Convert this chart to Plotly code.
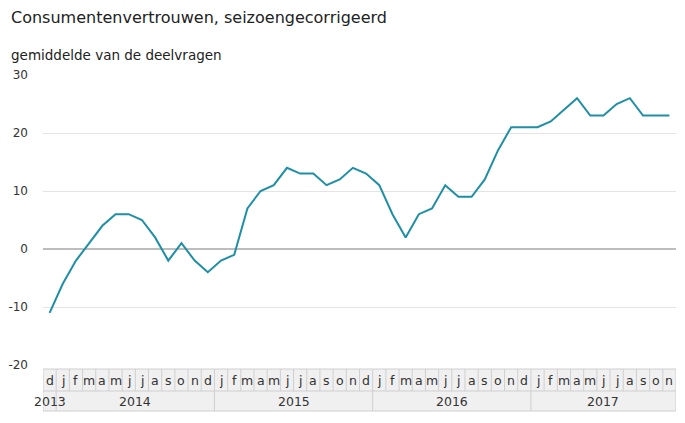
import plotly.graph_objects as go

title_text = "Consumentenvertrouwen, seizoengecorrigeerd"
subtitle_text = "gemiddelde van de deelvragen"

months = ["d",
          "j", "f", "m", "a", "m", "j", "j", "a", "s", "o", "n", "d",
          "j", "f", "m", "a", "m", "j", "j", "a", "s", "o", "n", "d",
          "j", "f", "m", "a", "m", "j", "j", "a", "s", "o", "n", "d",
          "j", "f", "m", "a", "m", "j", "j", "a", "s", "o", "n"]
years = ["2013"] + ["2014"] * 12 + ["2015"] * 12 + ["2016"] * 12 + ["2017"] * 11

values = [-11,
          -6, -2, 1, 4, 6, 6, 5, 2, -2, 1, -2, -4,
          -2, -1, 7, 10, 11, 14, 13, 13, 11, 12, 14, 13,
          11, 6, 2, 6, 7, 11, 9, 9, 12, 17, 21, 21,
          21, 22, 24, 26, 23, 23, 25, 26, 23, 23, 23]

y_ticks = [-20, -10, 0, 10, 20, 30]
y_tick_labels = ["-20", "-10", "0", "10", "20", "30"]

x = list(range(len(values)))
n = len(values)

fig = go.Figure()
fig.add_trace(go.Scatter(x=x, y=values, mode="lines",
                         line=dict(color="#1e8fa5", width=2),
                         hoverinfo="y", showlegend=False))

font_family = "DejaVu Sans, Verdana, sans-serif"

fig.update_layout(
    width=685, height=423,
    margin=dict(l=43, r=9, t=75, b=58, autoexpand=False),
    paper_bgcolor="white", plot_bgcolor="white",
    font=dict(family=font_family, color="#333333", size=12),
    xaxis=dict(range=[-0.5, n - 0.5], showgrid=False, zeroline=False,
               showticklabels=False, ticks="", fixedrange=True, automargin=False),
    yaxis=dict(range=[-20, 30], tickvals=y_ticks, ticktext=y_tick_labels,
               showgrid=True, automargin=False,
               gridcolor="#e4e4e4", gridwidth=1, zeroline=True,
               zerolinecolor="#bdbdbd", zerolinewidth=2,
               ticks="", ticklabelstandoff=14,
               tickfont=dict(size=12, color="#333333"), fixedrange=True),
    showlegend=False,
)

annotations = []
annotations.append(dict(text=title_text, xref="paper", yref="paper",
                        x=-34 / 633, y=1 + 57 / 290, xanchor="left", yanchor="middle",
                        showarrow=False, font=dict(size=16, color="#222222")))
annotations.append(dict(text=subtitle_text, xref="paper", yref="paper",
                        x=-34 / 633, y=1 + 20 / 290, xanchor="left", yanchor="middle",
                        showarrow=False, font=dict(size=13.5, color="#222222")))

# category box geometry (paper coords relative to plot height 290)
ph = 290.0
m_top = -4 / ph
m_bot = -26 / ph
y_bot = -46 / ph

shapes = []
shapes.append(dict(type="rect", xref="x", yref="paper", x0=-0.5, x1=n - 0.5,
                   y0=y_bot, y1=m_top, fillcolor="#f0f0f0",
                   line=dict(color="#cfcfcf", width=1), layer="below"))
shapes.append(dict(type="line", xref="x", yref="paper", x0=-0.5, x1=n - 0.5,
                   y0=m_bot, y1=m_bot, line=dict(color="#cfcfcf", width=1)))

for i, m in enumerate(months):
    annotations.append(dict(text=m, x=i, xref="x", yref="paper",
                            y=(m_top + m_bot) / 2, yanchor="middle",
                            showarrow=False, font=dict(size=12.5, color="#333333")))
    if i < n - 1:
        full = years[i] != years[i + 1]
        shapes.append(dict(type="line", xref="x", yref="paper",
                           x0=i + 0.5, x1=i + 0.5,
                           y0=y_bot if full else m_bot, y1=m_top,
                           line=dict(color="#cfcfcf", width=1)))

# year labels centred on their months
seen = []
for yv in years:
    if yv not in seen:
        seen.append(yv)
for yv in seen:
    idx = [i for i, v in enumerate(years) if v == yv]
    annotations.append(dict(text=yv, x=(idx[0] + idx[-1]) / 2, xref="x", yref="paper",
                            y=(m_bot + y_bot) / 2, yanchor="middle",
                            showarrow=False, font=dict(size=12.5, color="#333333")))

fig.update_layout(annotations=annotations, shapes=shapes)
fig.write_html("out.html", config={"displayModeBar": False},
               post_script="document.body.style.margin='0';")
